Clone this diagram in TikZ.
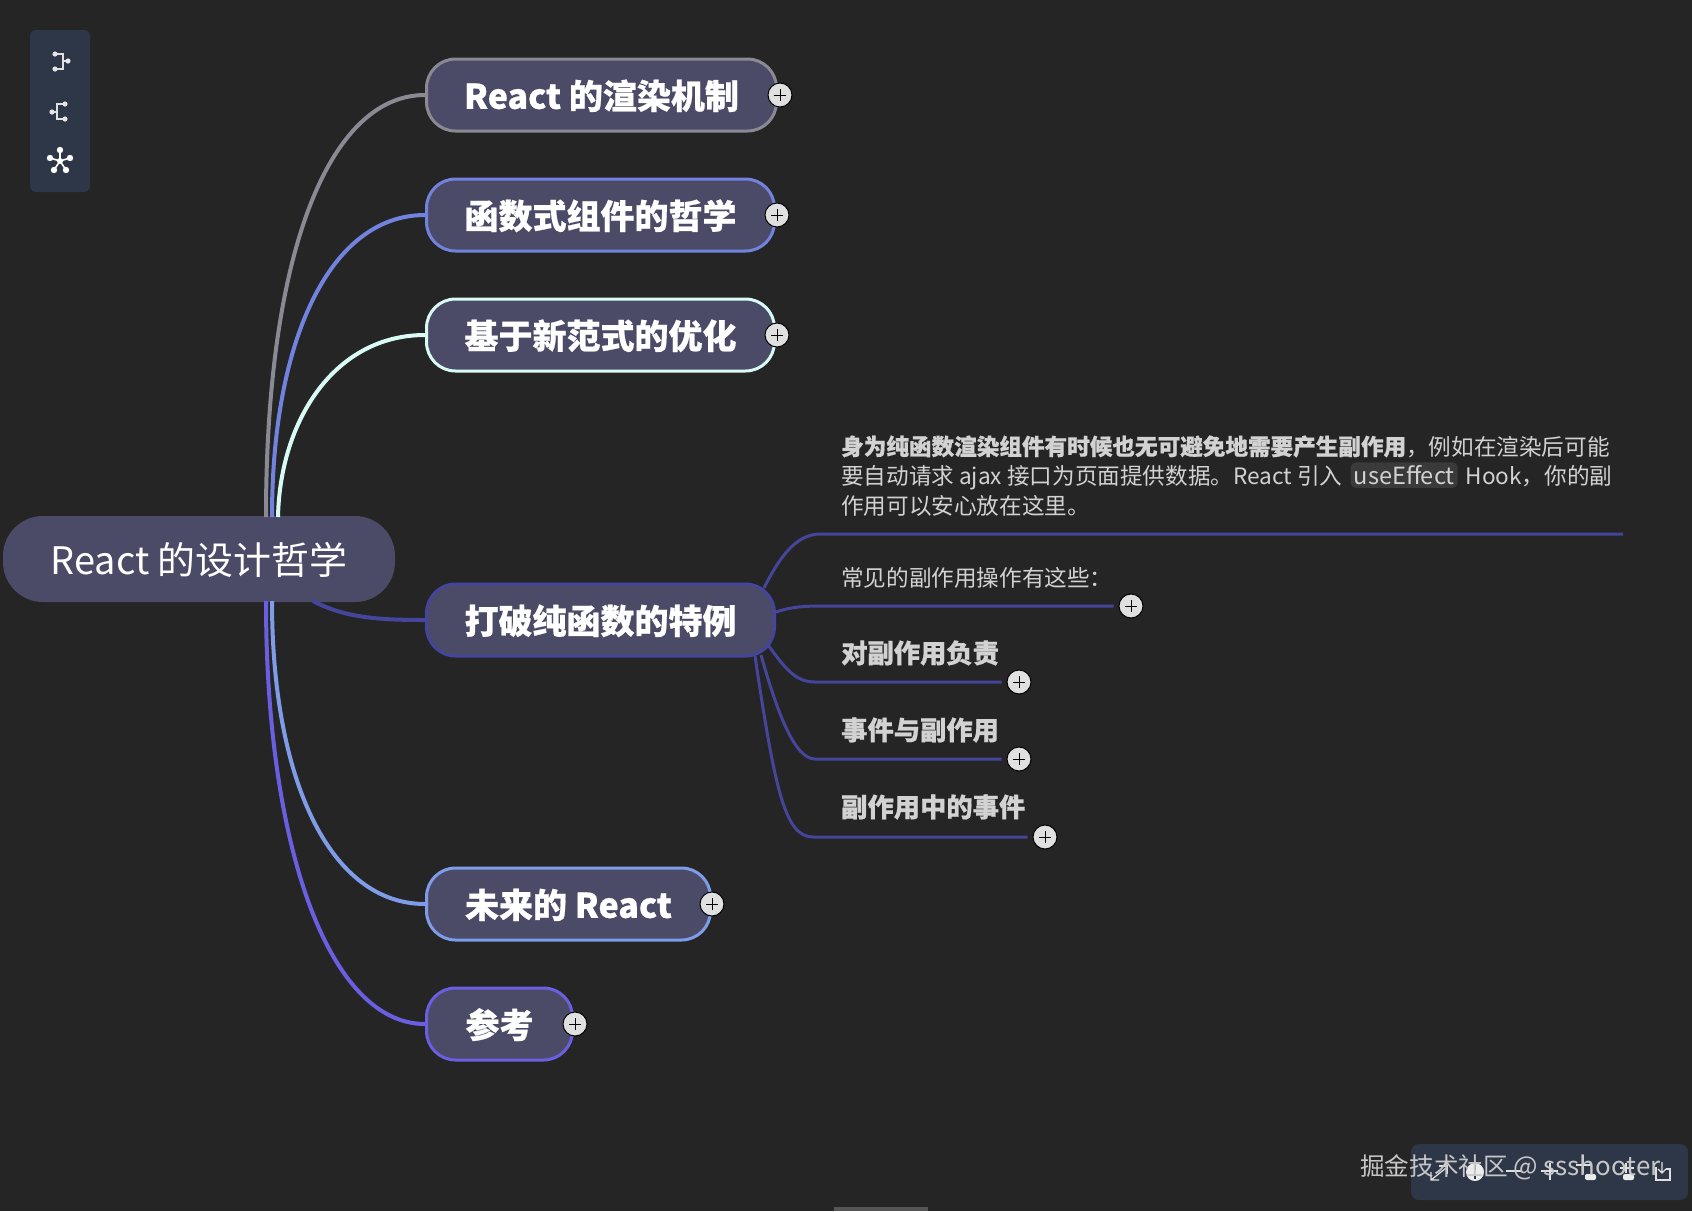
\documentclass[tikz,border=0pt]{standalone}
\usepackage{fontspec}
\setmainfont{Noto Sans CJK SC}[BoldFeatures={FakeBold=0.6}]
\usetikzlibrary{positioning}
\definecolor{bgcol}{HTML}{252525}
\definecolor{barcol}{HTML}{2E3748}
\definecolor{rootcol}{HTML}{4B4B67}
\definecolor{linegray}{HTML}{8A8A94}
\definecolor{lineblue}{HTML}{7283DF}
\definecolor{linepale}{HTML}{D8FBF6}
\definecolor{lineindigo}{HTML}{45459B}
\definecolor{linesky}{HTML}{7E9CE8}
\definecolor{lineviolet}{HTML}{6A5FE0}
\definecolor{subtext}{HTML}{D2D2D2}
\definecolor{chipcol}{HTML}{3A3A3A}
\newcommand{\fsize}[1]{\fontsize{#1}{#1}\selectfont}
\tikzset{
  branch/.style={draw=#1,line width=3pt,rounded corners=29pt,fill=rootcol,text=white,
    font=\fsize{34}\bfseries,minimum height=72pt,inner sep=0pt,anchor=west,text height=32pt,text depth=4.4pt},
  curve/.style={draw=#1,line width=4pt},
  subline/.style={draw=lineindigo,line width=3pt},
  subhead/.style={text=subtext,font=\fsize{26.3}\bfseries,anchor=west,inner sep=0pt},
  para/.style={text=subtext,font=\fsize{22.6},anchor=base west,inner sep=0pt},
  plus/.style={circle,draw=black,line width=1pt,fill=white!88!black,minimum size=24pt,inner sep=0pt,
    path picture={\draw[black,line width=1pt] (path picture bounding box.center) ++(-6pt,0) -- ++(12pt,0) ++(-6pt,-6pt) -- ++(0,12pt);}},
  tool/.style={draw=white!88!black,line width=1.2pt}
}
\begin{document}
\begin{tikzpicture}[x=1pt,y=-1pt]
\useasboundingbox (0,0) rectangle (1692,1211);
\fill[bgcol] (0,0) rectangle (1692,1211);
% panels
\fill[barcol,rounded corners=6pt] (30,30) rectangle (90,192);
\fill[barcol,rounded corners=8pt] (1411,1144) rectangle (1688,1200);
\fill[white!22!bgcol] (834,1207) rectangle (928,1211);
% left tools
\draw[tool] (55,54) -- (63,54) -- (63,69) -- (55,69) (63,61) -- (68,61);
\draw[tool] (65,104) -- (57,104) -- (57,119) -- (65,119) (52,112) -- (57,112);
\foreach \px/\py in {55/54,55/69,68/61,65/104,65/119,52/112}
  \fill[white!90!black] (\px,\py) circle (2.6pt);
\foreach \px/\py in {60/150,50/158,70/158,54/170,66/170}{
  \draw[white,line width=1.6pt] (60,161) -- (\px,\py);
  \fill[white] (\px,\py) circle (3.2pt);
}
\fill[white] (60,161) circle (3pt);
% right tools
\draw[tool] (1431,1172) -- (1431,1180) -- (1439,1180) (1431,1180) -- (1446,1168);
\draw[tool] (1439,1166) -- (1447,1166) -- (1447,1174);
\fill[white!92!black] (1475,1172) circle (9pt);
\draw[barcol,line width=1.2pt] (1475,1165) -- (1475,1170) (1475,1175) -- (1475,1179);
\draw[tool] (1506,1171) -- (1521,1171);
\draw[tool] (1541,1171) -- (1558,1171) (1550,1163) -- (1550,1180);
\draw[tool] (1583,1155) -- (1583,1173) (1576,1165) -- (1592,1165);
\fill[white!92!black,rounded corners=2pt] (1585,1174) rectangle (1596,1180);
\draw[tool] (1626,1163) -- (1626,1173) (1620,1168) -- (1634,1168);
\fill[white!92!black,rounded corners=2pt] (1623,1174) rectangle (1634,1180);
\draw[tool] (1656,1167) -- (1656,1180) -- (1670,1180) -- (1670,1169) -- (1666,1169);
\draw[tool] (1662,1162) -- (1662,1173) (1658,1169) -- (1662,1173) -- (1666,1169);
% root and branches
\node[fill=rootcol,rounded corners=40pt,text=white,font=\fsize{37.9},minimum width=392pt,minimum height=86pt,inner sep=0pt,text height=36pt,text depth=5.2pt] (root) at (199,559) {React 的设计哲学};
\node[branch=linegray,minimum width=350pt] (render) at (425,95) {React 的渲染机制};
\node[branch=lineblue,minimum width=348pt] (func) at (425,215) {函数式组件的哲学};
\node[branch=linepale,minimum width=348pt] (opt) at (425,335) {基于新范式的优化};
\node[branch=lineindigo,minimum width=348pt] (side) at (425,620) {打破纯函数的特例};
\node[branch=linesky,minimum width=284pt] (future) at (425,904) {未来的 React};
\node[branch=lineviolet,minimum width=146pt] (ref) at (425,1024) {参考};
% plus buttons
\node[plus] (prender) at (780,95) {};
\node[plus] (pfunc) at (777,215) {};
\node[plus] (popt) at (777,335) {};
\node[plus] (pfuture) at (712,904) {};
\node[plus] (pref) at (575,1024) {};
\node[plus] (pcommon) at (1131,606) {};
\node[plus] (pduty) at (1019,682) {};
\node[plus] (pevent) at (1019,759) {};
\node[plus] (pinner) at (1045,837) {};
% curves from root
\coordinate (rootg) at (266,517);
\coordinate (rootb) at (272,517);
\coordinate (rootp) at (278,517);
\coordinate (rooti) at (313,601);
\coordinate (roots) at (272,601);
\coordinate (rootv) at (266,601);
\draw[curve=linegray] (rootg) .. controls (266,250) and (330,95) .. (render.west);
\draw[curve=lineblue] (rootb) .. controls (272,340) and (330,215) .. (func.west);
\draw[curve=linepale] (rootp) .. controls (280,420) and (335,335) .. (opt.west);
\draw[curve=lineindigo] (rooti) .. controls (345,618) and (380,620) .. (side.west);
\draw[curve=linesky] (roots) .. controls (272,780) and (330,904) .. (future.west);
\draw[curve=lineviolet] (rootv) .. controls (266,850) and (330,1024) .. (ref.west);
% text of the open branch
\node[para] (lineone) at (841,455) {\textbf{身为纯函数渲染组件有时候也无可避免地需要产生副作用}，例如在渲染后可能};
\node[para] (linetwo) at (841,484.5) {要自动请求 ajax 接口为页面提供数据。React 引入};
\node[para,font=\fsize{23.6},fill=chipcol,rounded corners=5pt,inner xsep=3pt,inner ysep=3pt,right=8pt of linetwo.base east,anchor=base west] (chip) {useEffect};
\node[para,right=7.5pt of chip.base east,anchor=base west] (linetwob) {Hook，你的副};
\node[para] (linethree) at (841,514) {作用可以安心放在这里。};
\node[para,anchor=west] (common) at (841,578) {常见的副作用操作有这些：};
\node[subhead] (duty) at (841,653) {对副作用负责};
\node[subhead] (event) at (841,730) {事件与副作用};
\node[subhead] (inner) at (841,807) {副作用中的事件};
% lines under the text
\coordinate (sidea) at (764,588);
\coordinate (sideb) at (776,612);
\coordinate (sidec) at (768,645);
\coordinate (sided) at (761,655);
\coordinate (sidee) at (755,656);
\coordinate (parend) at (1623,534);
\draw[subline] (sidea) .. controls (778,560) and (795,534) .. (820,534) -- (parend);
\draw[subline,shorten >=5pt] (sideb) .. controls (790,607) and (805,606) .. (820,606) -- (pcommon);
\draw[subline,shorten >=5pt] (sidec) .. controls (785,668) and (795,682) .. (815,682) -- (pduty);
\draw[subline,shorten >=5pt] (sided) .. controls (778,715) and (795,759) .. (815,759) -- (pevent);
\draw[subline,shorten >=5pt] (sidee) .. controls (775,790) and (785,837) .. (813,837) -- (pinner);
% watermark
\node[text=white!78!black,font=\fsize{24.6},anchor=west,inner sep=0pt] (mark) at (1360,1167) {掘金技术社区 {\fsize{25.9}@ ssshooter}};
\end{tikzpicture}
\end{document}
